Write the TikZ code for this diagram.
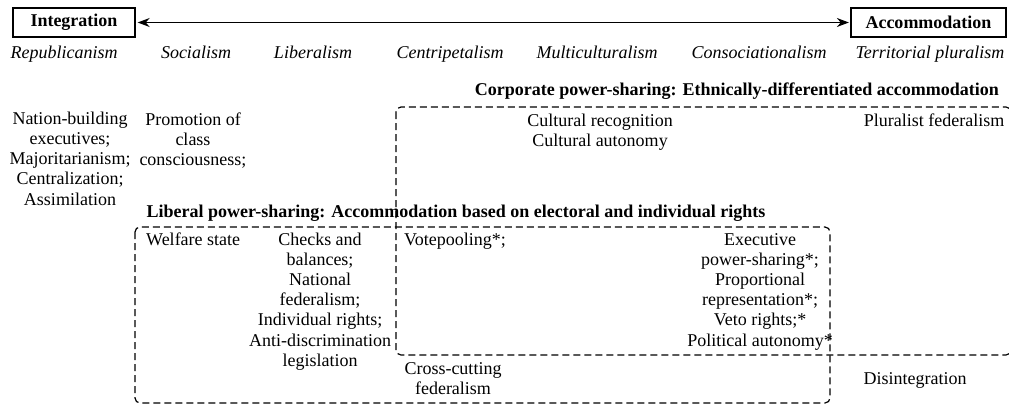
\documentclass[tikz,border=0pt]{standalone}
\usepackage{fontspec}
\setmainfont{Liberation Serif}
\usetikzlibrary{arrows.meta}
\begin{document}
\begin{tikzpicture}[x=1pt,y=-1pt,
  every node/.style={font=\fontsize{18}{20.2}\selectfont, inner sep=0pt},
  pole/.style={draw, line width=1.3pt, minimum height=29pt,
               font=\fontsize{18}{20.2}\selectfont\bfseries},
  doctrine/.style={anchor=base, font=\fontsize{18}{20.2}\selectfont\itshape},
  heading/.style={anchor=base, font=\fontsize{18}{20.2}\selectfont\bfseries},
  % multi-line entries are placed by the baseline of their last line
  entry/.style={anchor=base, align=center},
  group/.style={dash pattern=on 7pt off 4pt, line width=1.2pt, rounded corners=5pt},
  spectrum/.style={line width=1.3pt,
                   {Stealth[length=12pt,width=9pt]}-{Stealth[length=12pt,width=9pt]}}
]
\useasboundingbox (0,0) rectangle (1009,407);

% the two poles of the spectrum
\node[pole, minimum width=122pt] (int) at (74,22.5) {Integration};
\node[pole, minimum width=155pt] (acc) at (928.5,22.5) {Accommodation};
\draw[spectrum, shorten <=2pt, shorten >=1.5pt] (int) -- (acc);

% doctrines along the spectrum
\node[doctrine] (rep) at (64,58) {Republicanism};
\node[doctrine] (soc) at (196,58) {Socialism};
\node[doctrine] (lib) at (313,58) {Liberalism};
\node[doctrine] (cen) at (450,58) {Centripetalism};
\node[doctrine] (mul) at (597,58) {Multiculturalism};
\node[doctrine] (con) at (759,58) {Consociationalism};
\node[doctrine] (ter) at (930,58) {Territorial pluralism};

% corporate power-sharing group
\node[heading, anchor=base east] (corph) at (999,95)
  {Corporate power-sharing: Ethnically-differentiated accommodation};
\draw[group] (396,107) rectangle (1011,355);

% liberal power-sharing group
\node[heading] (libh) at (456,217)
  {Liberal power-sharing: Accommodation based on electoral and individual rights};
\draw[group] (135,227) rectangle (830,403);

% institutions
\node[entry] (nat) at (70,205) {Nation-building\\executives;\\Majoritarianism;\\Centralization;\\Assimilation};
\node[entry] (pro) at (193,165.4) {Promotion of\\class\\consciousness;};
\node[entry] (cul) at (600,146.2) {Cultural recognition\\Cultural autonomy};
\node[entry] (plu) at (934,126) {Pluralist federalism};
\node[entry, anchor=base west] (wel) at (146,245) {Welfare state};
\node[entry] (chk) at (320,366.2) {Checks and\\balances;\\National\\federalism;\\Individual rights;\\Anti-discrimination\\legislation};
\node[entry, anchor=base west] (vot) at (404,245) {Votepooling*;};
\node[entry] (exe) at (760,346) {Executive\\power-sharing*;\\Proportional\\representation*;\\Veto rights;*\\Political autonomy*};
\node[entry] (crs) at (453,394.2) {Cross-cutting\\federalism};
\node[entry] (dis) at (915,384) {Disintegration};
\end{tikzpicture}
\end{document}
